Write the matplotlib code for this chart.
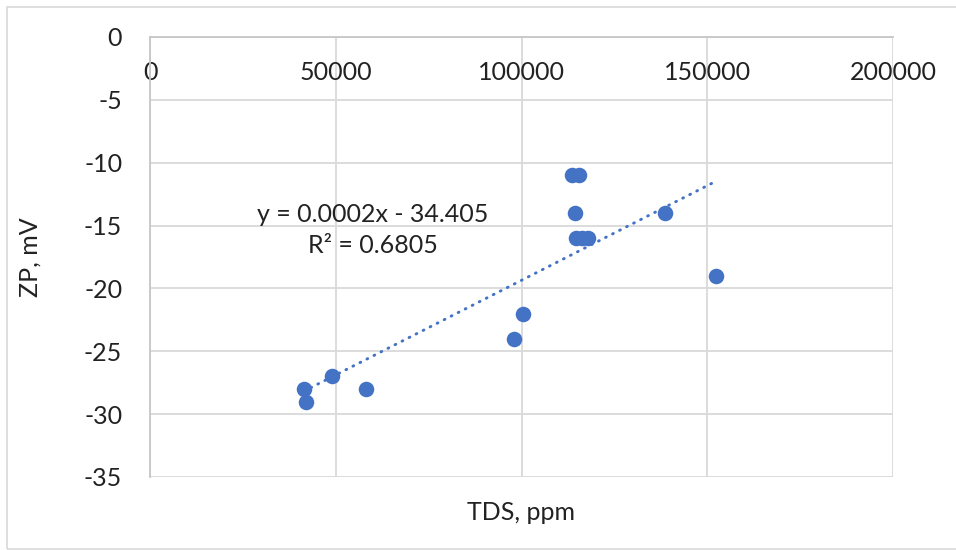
import numpy as np
import matplotlib
matplotlib.use('Agg')
import matplotlib.pyplot as plt
from matplotlib.patches import Rectangle

plt.rcParams['font.family'] = ['Lato', 'DejaVu Sans']

# TDS (ppm) und ZP (mV)
tds = [41400, 41900, 48900, 58100, 98100, 100500, 113700, 115600,
       114500, 114800, 116400, 118000, 138700, 152400]
zp = [-28, -29, -27, -28, -24, -22, -11, -11, -14, -16, -16, -16, -14, -19]
x_ticks = [0, 50000, 100000, 150000, 200000]
y_ticks = [0, -5, -10, -15, -20, -25, -30, -35]
trend_label = 'y = 0.0002x - 34.405\nR² = 0.6805'

blue = '#4472C4'
grid_c = '#D9D9D9'
axis_c = '#C6C6C6'
fs = 18

fig = plt.figure(figsize=(9.56, 5.5), dpi=100)
ax = fig.add_axes([150/956, 1-477/550, (893-150)/956, (477-37)/550])

# Rahmen um das Diagramm
fig.patches.append(Rectangle((7/956, 1/550), 1.1, 1-8/550, transform=fig.transFigure,
                             fill=False, edgecolor=grid_c, lw=1.2))

# Ausgleichsgerade
m, b = np.polyfit(tds, zp, 1)
xl = np.array([min(tds), max(tds)])
ax.plot(xl, m*xl + b, color=blue, lw=2.1, linestyle=(0, (0.3, 2.4)),
        dash_capstyle='round', zorder=2)

ax.scatter(tds, zp, s=125, color=blue, zorder=3, linewidths=0)

ax.set_xlim(0, 200000)
ax.set_ylim(-35, 0)
ax.set_xticks(x_ticks)
ax.set_yticks(y_ticks)
ax.set_xticklabels([str(v) for v in x_ticks])
ax.set_yticklabels([str(v) for v in y_ticks])

ax.grid(True, color=grid_c, lw=1.3, zorder=0)
ax.set_axisbelow(True)
ax.spines['bottom'].set_position(('data', 0))
ax.spines['bottom'].set_color(axis_c)
ax.spines['left'].set_color(axis_c)
ax.spines['bottom'].set_linewidth(1.3)
ax.spines['left'].set_linewidth(1.3)
ax.spines['top'].set_visible(False)
ax.spines['right'].set_visible(False)
ax.tick_params(axis='x', length=0, pad=17, labelsize=fs, labelcolor='#222222')
ax.tick_params(axis='y', length=0, pad=20, labelsize=fs, labelcolor='#222222')

ax.text(59900, -15.35, trend_label, ha='center', va='center', fontsize=fs,
        linespacing=1.4, zorder=4, color='#222222')

fig.text(30/956, 1-257/550, 'ZP, mV', rotation=90, ha='center', va='center',
         fontsize=fs, color='#222222')
fig.text(521/956, 1-512/550, 'TDS, ppm', ha='center', va='center',
         fontsize=fs, color='#222222')

fig.savefig('out.png', dpi=100)
